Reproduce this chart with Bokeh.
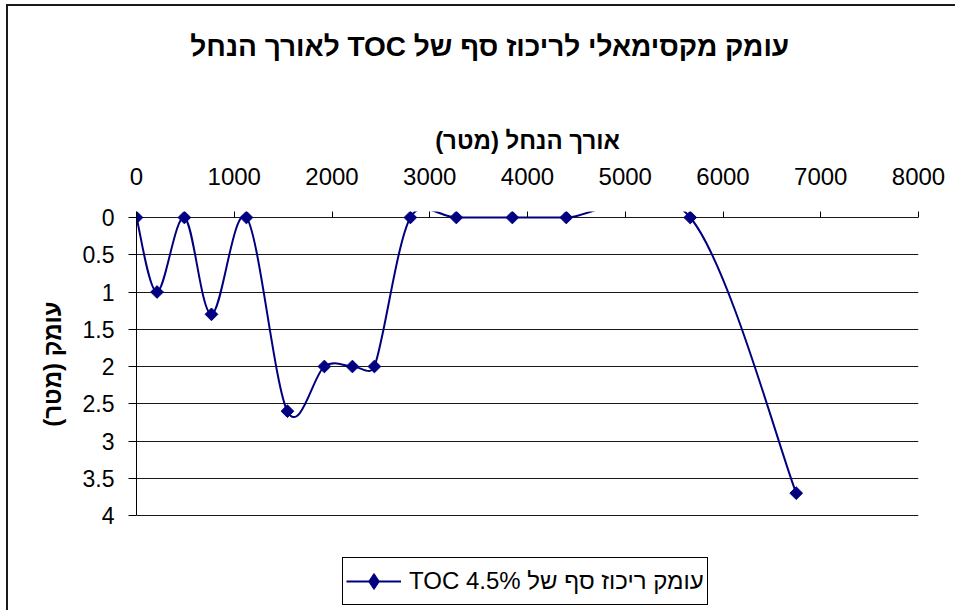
import math
from bokeh.plotting import figure
from bokeh.models import (Range1d, FixedTicker, Legend, LegendItem, ColumnDataSource,
                          LinearAxis)
from bokeh.core.properties import value
from bokeh.embed import file_html
from bokeh.resources import INLINE

# ---- texts ----
title_text = "עומק מקסימאלי לריכוז סף של TOC לאורך הנחל"
x_title = "אורך הנחל (מטר)"
y_title = "עומק (מטר)"
series_name = "עומק ריכוז סף של TOC 4.5%"

# ---- data ----
distance = [0, 210, 490, 767, 1125, 1544, 1922, 2209, 2434, 2802, 3272, 3845, 4397, 5665, 6749]
depth = [0, 1.0, 0, 1.3, 0, 2.6, 2.0, 2.0, 2.0, 0, 0, 0, 0, 0, 3.7]

x_ticks = [0, 1000, 2000, 3000, 4000, 5000, 6000, 7000, 8000]
y_ticks = [0, 0.5, 1, 1.5, 2, 2.5, 3, 3.5, 4]
y_tick_labels = ["0", "0.5", "1", "1.5", "2", "2.5", "3", "3.5", "4"]

FONT = "Liberation Sans"
NAVY = "#000080"

# layout: canvas origin on page (8, 6); frame page box x 136..918, y 211..612
# (the depth axis itself runs 0..4 between y 217 and 515; the legend sits below it)
W, H = 949, 606
PX_X = 782 / 8000.0      # screen px per metre along the stream
PX_Y = 74.5              # screen px per metre of depth


def rtl(s):
    return "\u202b" + s + "\u202c"


def smooth_segments(xs, ys):
    """Excel-like smoothed line: cubic Bezier segments with Catmull-Rom tangents
    (1/6 of the neighbour chord), each control arm limited to half the segment."""
    n = len(xs)

    def d(i, j):
        return math.hypot((xs[i] - xs[j]) * PX_X, (ys[i] - ys[j]) * PX_Y)

    seg = {k: [] for k in ("x0", "y0", "x1", "y1", "cx0", "cy0", "cx1", "cy1")}
    for i in range(n - 1):
        a = i - 1 if i > 0 else i
        b = i + 2 if i + 2 < n else i + 1
        d12 = d(i, i + 1)
        d02 = d(a, i + 1)
        d13 = d(i, b)
        f1 = min(1 / 6.0, d12 / (2.0 * d02)) if d02 > 0 else 1 / 6.0
        f2 = min(1 / 6.0, d12 / (2.0 * d13)) if d13 > 0 else 1 / 6.0
        seg["x0"].append(xs[i]); seg["y0"].append(ys[i])
        seg["x1"].append(xs[i + 1]); seg["y1"].append(ys[i + 1])
        seg["cx0"].append(xs[i] + (xs[i + 1] - xs[a]) * f1)
        seg["cy0"].append(ys[i] + (ys[i + 1] - ys[a]) * f1)
        seg["cx1"].append(xs[i + 1] - (xs[b] - xs[i]) * f2)
        seg["cy1"].append(ys[i + 1] - (ys[b] - ys[i]) * f2)
    return seg


p = figure(width=W, height=H, output_backend="svg", toolbar_location=None,
           x_range=Range1d(0, 8000), y_range=Range1d(4 + 97 / PX_Y, -6 / PX_Y),
           x_axis_location="above",
           min_border_left=128, min_border_right=W - 910,
           min_border_top=205, min_border_bottom=0)
p.styles = {"border-top": "2px solid #1a1a1a", "border-left": "2px solid #1a1a1a",
            "margin-left": "6px", "margin-top": "4px"}
p.outline_line_color = None
p.background_fill_color = "white"
p.border_fill_color = "white"

# x axis (top)
xa = p.xaxis[0]
xa.ticker = FixedTicker(ticks=x_ticks)
xa.axis_line_color = None
xa.major_tick_in = 6
xa.major_tick_out = 0
xa.major_tick_line_color = "black"
xa.minor_tick_in = 0
xa.minor_tick_out = 0
xa.major_label_standoff = 27
xa.major_label_text_font = FONT
xa.major_label_text_font_size = "24px"
xa.major_label_text_color = "black"
xa.axis_label = rtl(x_title)
xa.axis_label_text_font = FONT
xa.axis_label_text_font_size = "24px"
xa.axis_label_text_font_style = "bold"
xa.axis_label_text_color = "black"
xa.axis_label_standoff = 11

# chart title, drawn as the label of a bare axis stacked above the x axis
title_axis = LinearAxis(ticker=FixedTicker(ticks=[]),
                        axis_line_color=None, major_tick_in=0, major_tick_out=0,
                        minor_tick_in=0, minor_tick_out=0, major_label_standoff=0,
                        axis_label=rtl("\u2003\u2003\u2002\u2009" + title_text),
                        axis_label_text_font=FONT,
                        axis_label_text_font_size="28px", axis_label_text_font_style="bold",
                        axis_label_text_color="black", axis_label_standoff=62)
p.add_layout(title_axis, "above")

# y axis (left), drawn only over 0..4
ya = p.yaxis[0]
ya.ticker = FixedTicker(ticks=y_ticks)
ya.bounds = (0, 4)
ya.major_label_overrides = {t: l for t, l in zip(y_ticks, y_tick_labels)}
ya.axis_line_color = "black"
ya.major_tick_in = 0
ya.major_tick_out = 8
ya.major_tick_line_color = "black"
ya.minor_tick_in = 0
ya.minor_tick_out = 0
ya.major_label_standoff = 14
ya.major_label_text_font = FONT
ya.major_label_text_font_size = "23px"
ya.major_label_text_color = "black"
ya.axis_label = "\u2003\u2003\u2003\u2003" + rtl(y_title)
ya.axis_label_text_font = FONT
ya.axis_label_text_font_size = "24px"
ya.axis_label_text_font_style = "bold"
ya.axis_label_text_color = "black"
ya.axis_label_standoff = 14

p.xgrid.visible = False
p.ygrid.grid_line_color = "black"
p.ygrid.grid_line_width = 1
p.ygrid.grid_line_alpha = 0.9

# series
seg_src = ColumnDataSource(smooth_segments(distance, depth))
bz = p.bezier(x0="x0", y0="y0", x1="x1", y1="y1", cx0="cx0", cy0="cy0",
              cx1="cx1", cy1="cy1", source=seg_src, line_color=NAVY, line_width=2)
pt_src = ColumnDataSource(dict(x=distance, y=depth))
# diamond key (used for the legend swatch; hidden under the markers below)
sc_key = p.scatter("x", "y", source=pt_src, marker="diamond", size=11,
                   fill_color=NAVY, line_color=NAVY)
sc = p.scatter("x", "y", source=pt_src, marker="square", angle=0.785398, size=9,
               fill_color=NAVY, line_color=NAVY)

legend = Legend(items=[LegendItem(label=value(rtl(series_name)), renderers=[bz, sc_key])],
                location=(206, 7), border_line_color="black", border_line_width=1,
                border_line_alpha=1.0, padding=3, spacing=0, glyph_width=55,
                glyph_height=40, label_standoff=8, label_text_font=FONT,
                label_text_font_size="24px", label_text_color="black",
                background_fill_color="white", background_fill_alpha=1.0, margin=0)
p.add_layout(legend)

open("out.html", "w").write(file_html(p, INLINE))
